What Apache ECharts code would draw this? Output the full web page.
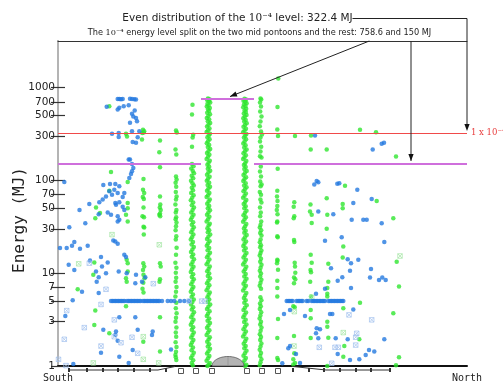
<!DOCTYPE html>
<html>
<head>
<meta charset="utf-8">
<script src="https://cdn.jsdelivr.net/npm/echarts@6/dist/echarts.min.js"></script>
<style>
  html, body { margin: 0; padding: 0; background: #fff; }
  #chart { width: 503px; height: 383px; }
</style>
</head>
<body>
<div id="chart"></div>
<script>
// Impact energy of single events along the floating bridge.
// x: position along the bridge in metres from the south end, y: energy in MJ (log scale).

const yTicks = [1, 3, 5, 7, 10, 30, 50, 70, 100, 300, 500, 700, 1000];
const energyRange = [1, 3162.3];
const bridgeEnds = [0, 4090];
const endNames = ['South', 'North'];

const uniformLevel = 322.4;   // 10^-4 level spread evenly
const midLevel = 758.6;       // share on the two mid pontoons
const restLevel = 150;        // share on the remaining pontoons
const midSpan = [1430, 1960];

const pontoonTicks = [110, 290, 450, 600, 760, 920, 1080, 2350, 2510, 2660, 2820, 2980, 3130, 3320];
const pontoonBoxes = [1230, 1380, 1540, 1890, 2040, 2200];
const domeSpan = [1540, 1860];

// Blue events (scattered along the span)
const blueDots = [
  [597,750],[613,752],[630,748],[647,752],[720,755],[740,750],[763,748],[780,740],
  [487,619],[597,578],[613,603],[657,628],[707,644],[767,564],[740,520],[753,486],[780,470],[790,433],[720,417],
  [540,317],[607,324],[607,293],[740,337],[813,337],[797,290],[747,259],[780,253],
  [707,167],[720,167],[740,150],[753,136],[740,125],[730,117],[713,106],
  [63,96],[453,89],[520,91],[573,91],[613,86],[513,76],[563,79],[597,73],[663,73],[480,67],[540,70],[647,66],
  [447,62],[413,58],[573,57],[613,58],[580,54.5],[313,55.5],[647,52],[663,48],[215,48],[407,43],[497,45],
  [530,42.5],[597,41],[613,37.5],[597,36],[273,34.5],
  [113,31.3],[20,18.6],[87,18.6],[140,19.7],[163,21.6],[220,18.3],[297,19.7],[553,22.4],[573,21.9],[597,20.7],
  [663,15.8],[680,14.9],[320,13.7],[430,14.9],[107,12.3],[163,10.8],[497,13],[440,11.8],[480,10],[380,10.4],
  [407,9.05],[387,8.1],[607,10.4],[687,10],[780,9.6],[773,7.8],[840,8.1],[873,9.05],[240,6.3],[407,6.1],
  [147,5.1],[73,3.46],[613,3.35],[773,3.35],[453,2.45],[580,2.35],[573,2.16],[797,2.45],[947,2.35],[940,2.16],
  [597,1.87],[747,1.49],[430,1.39],[1130,1.51],[613,1.26],[707,1.08],[153,1.05],
  [2570,303],[3147,214],[3237,248],[3260,253],[2587,98],[2603,95],[2563,90],[2793,92],[2813,93],[2993,79],
  [2953,57],[3137,63],[2603,46],[2753,43],[2937,37.5],[3053,37.5],[3087,37.5],[3237,34.5],[2837,24.4],
  [3263,21.6],[2670,22.3],[2897,14.1],[3003,13.9],[2930,12.8],[2730,11.3],[3130,11.1],[2920,10.6],[3120,8.95],
  [3243,9.0],[3277,8.45],[3210,8.45],[2843,9.05],[2797,8.3],[2930,6.9],[2670,6.8],[2580,6.0],[2953,4.07],
  [2743,3.64],[2720,3.64],[2260,3.64],[2320,4.0],[2470,3.46],[2587,2.55],[2620,2.48],[2580,2.25],[2603,1.99],
  [2777,1.99],[2897,1.94],[3263,1.94],[2320,1.64],[2303,1.55],[3110,1.49],[3163,1.43],[2797,1.35],[3077,1.31],
  [2380,1.35],[2920,1.16],[3013,1.18],[2420,1.08],[2243,1.07]
];

// Blue events sitting on the 5 MJ band
const blueFive = [
  [530,5],[545,5],[560,5],[575,5],[590,5],[605,5],[620,5],[635,5],[650,5],[665,5],[690,5],[705,5],[720,5],
  [735,5],[750,5],[765,5],[780,5],[795,5],[810,5],[825,5],[850,5],[865,5],[880,5],[895,5],[910,5],[925,5],
  [940,5],[955,5],[970,5],[985,5],[1000,5],[1013,5],
  [1040,5],[1097,5],[1130,5],[1163,5],[1220,5],[1263,5],[1307,5],
  [2287,5],[2302,5],[2317,5],[2332,5],[2347,5],[2387,5],[2402,5],[2417,5],[2432,5],[2447,5],[2487,5],[2502,5],
  [2537,5],[2552,5],[2567,5],[2582,5],[2597,5],[2612,5],[2627,5],[2642,5],[2657,5],[2670,5],
  [2705,5],[2720,5],[2735,5],[2750,5],[2765,5],[2780,5],[2795,5],[2810,5],[2825,5],[2840,5],[2853,5]
];

const blueCrosses = [
  [480,6.7],[430,4.6],[87,3.95],[563,3.14],[263,2.59],[563,2.07],[740,2.04],[63,1.94],[630,1.78],[430,1.64],
  [797,1.37],[5,1.18],[80,1.01],[953,7.7],[313,12.8],[1313,5],[1437,5],[1470,5],
  [2910,3.55],[3137,3.14],[2987,2.25],[2977,2.04],[2770,1.59],[2803,1.59],[2977,1.68],[2613,1.59],[2737,1.07]
];

// Green events away from the pontoon columns
const greenLoose = [
  [513,627],[680,317],[690,297],[530,123],[697,96],[513,77],[697,57],[697,50],[380,51],[420,44.5],[373,39],
  [680,42.5],[697,36],[687,13.9],[697,12.8],[363,13],[353,9.6],[697,10.4],[680,8.8],[687,8.1],[197,6.7],
  [373,3.95],[363,2.77],[513,2.25],[680,4.4],
  [3020,350],[3180,330],[3380,180],[2870,87.5],[3187,60],[2847,55.5],[2847,50],[3353,39],[2853,19.4],
  [2847,14.7],[3387,13.3],[3410,7.2],[3020,4.8],[2853,4.2],[3353,3.7],[3013,1.94],[2863,1.64],[2853,1.26],
  [3410,1.24],[3380,1.02]
];

const greenCrosses = [
  [540,26],[207,12.6],[1013,20.2],[853,2.07],[853,1.18],[353,1.08],[1007,1.08],
  [3420,15.3],[2853,2.29],[2360,1.64],[2537,5.5],[2363,3.85]
];

// Green events on the individual pontoons
const pontoon5 = [
  [850,350],[862,337],[843,324],[857,328],[840,275],[855,103],[850,79],[862,73],[848,66],[858,63],[855,51],
  [845,41],[860,40],[855,31.6],[862,31],[858,26],[853,12.8],[862,11.8],[850,10.8],[855,9.6],[865,8.8],
  [853,7.9],[845,6.8],[855,6.2],[853,1.83]
];
const pontoon6 = [
  [1020,268],[1013,200],[1020,138],[1020,67],[1023,55],[1018,51],[1027,48],[1020,44],[1013,42.5],[1022,41],
  [1020,12.8],[1027,11.8],[1020,8.6],[1015,8.1],[1020,3.35],[1020,1.43]
];
const pontoon7 = [
  [1180,343],[1188,327],[1175,214],[1183,189],[1180,110],[1186,102],[1176,94],[1182,85],[1178,75],[1186,67],
  [1180,62],[1174,55],[1184,48],[1178,45],[1182,40],[1176,38],[1185,35],[1180,32],[1176,29],[1183,25],
  [1178,23],[1186,18.8],[1180,15.8],[1174,12.9],[1184,11.4],[1178,10.1],[1182,8.9],[1176,8.1],[1185,7.1],
  [1180,6.3],[1174,5.6],[1183,4.8],[1178,4.2],[1186,3.7],[1180,3.3],[1175,3.0],[1184,2.6],[1178,2.3],
  [1182,2.06],[1176,1.8],[1185,1.6],[1180,1.42],[1174,1.31],[1183,1.16],[1178,1.24]
];
const pontoon8 = [
  [1345,650],[1340,510],[1352,310],[1346,289],[1340,230],
  [1340,150],[1355,142],[1332,134],[1348,126],[1360,119],[1337,112],[1352,105],[1330,99],[1345,93],[1358,88],
  [1338,83],[1350,78],[1332,73],[1356,69],[1342,65],[1328,61],[1352,57.5],[1338,54],[1360,51],[1346,48],
  [1332,45],[1355,42.5],[1340,40],[1328,37.5],[1352,35.3],[1338,33.2],[1358,31.2],[1345,29.3],[1332,27.6],
  [1354,26],[1340,24.4],[1328,23],[1350,21.6],[1336,20.3],[1358,19.1],[1344,18],[1330,16.9],[1352,15.9],
  [1338,15],[1360,14.1],[1346,13.2],[1332,12.4],[1355,11.7],[1340,11],[1328,10.3],[1352,9.7],[1338,9.1],
  [1358,8.6],[1345,8.1],[1332,7.6],[1354,7.1],[1340,6.7],[1328,6.3],[1350,5.9],[1336,5.55],[1358,5.2],
  [1344,4.9],[1330,4.6],[1352,4.3],[1338,4.05],[1360,3.8],[1346,3.57],[1332,3.35],[1355,3.15],[1340,2.96],
  [1328,2.78],[1352,2.61],[1338,2.45],[1358,2.3],[1345,2.16],[1332,2.03],[1354,1.9],[1340,1.79],[1328,1.68],
  [1350,1.58],[1336,1.48],[1358,1.39],[1344,1.3],[1330,1.22],[1352,1.15],[1338,1.08],[1348,1.02]
];
const pontoon9 = [
  [1500,758],[1515,748],[1490,735],[1508,712],[1522,690],[1495,668],[1505,640],[1488,622],[1518,600],[1500,578],
  [1510,556],[1492,533],[1520,515],[1503,492],[1488,470],[1512,452],[1498,433],[1522,414],[1505,396],[1490,380],
  [1515,362],[1500,346],[1486,331],[1520,318],[1508,303],[1494,290],[1516,277],[1500,263],[1488,250],[1512,240],
  [1498,228],[1522,217],[1505,207],[1490,197],[1514,188],[1500,179],[1486,170],[1518,162],[1506,154],[1494,147],
  [1512,140],[1498,133],[1522,127],[1504,121],[1490,115],[1516,109],[1500,104],[1488,99],[1512,94],[1496,89],
  [1520,85],[1504,81],[1490,77],[1514,73],[1500,69],[1486,66],[1518,62],[1506,59],[1492,56],[1512,53],
  [1498,50],[1520,47.5],[1504,45],[1490,42.5],[1514,40.5],[1500,38],[1486,36],[1518,34],[1506,32.5],[1494,30.5],
  [1512,29],[1498,27.5],[1522,26],[1504,24.6],[1490,23.3],[1516,22],[1500,20.8],[1488,19.7],[1512,18.6],[1496,17.6],
  [1520,16.6],[1504,15.7],[1490,14.8],[1514,14],[1500,13.2],[1486,12.5],[1518,11.8],[1506,11.1],[1492,10.5],
  [1512,9.9],[1498,9.3],[1520,8.8],[1504,8.3],[1490,7.8],[1514,7.4],[1500,6.95],[1486,6.55],[1518,6.2],
  [1506,5.85],[1494,5.5],[1512,5.2],[1498,4.9],[1522,4.6],[1504,4.35],[1490,4.1],[1516,3.88],[1500,3.65],
  [1488,3.45],[1512,3.25],[1496,3.07],[1520,2.9],[1504,2.73],[1490,2.58],[1514,2.43],[1500,2.29],[1486,2.16],
  [1518,2.04],[1506,1.93],[1492,1.82],[1512,1.72],[1498,1.62],[1520,1.53],[1504,1.44],[1490,1.36],[1514,1.28],
  [1500,1.21],[1486,1.14],[1518,1.08],[1506,1.03],[1494,1.0]
];
const pontoon10 = [
  [1865,755],[1880,742],[1855,720],[1872,700],[1886,676],[1860,655],[1875,630],[1852,612],[1882,590],[1866,566],
  [1878,545],[1858,524],[1885,505],[1868,485],[1853,466],[1877,447],[1862,430],[1887,412],[1870,394],[1855,377],
  [1880,360],[1865,344],[1851,330],[1884,316],[1872,302],[1859,289],[1881,276],[1866,262],[1853,249],[1876,238],
  [1862,226],[1886,215],[1869,205],[1855,196],[1879,186],[1864,177],[1851,169],[1883,161],[1871,153],[1859,146],
  [1877,139],[1863,132],[1887,126],[1869,120],[1855,114],[1881,108],[1865,103],[1853,98],[1877,93],[1861,88],
  [1885,84],[1869,80],[1855,76],[1879,72],[1865,68],[1851,65],[1883,61.5],[1871,58.5],[1857,55.5],[1877,52.5],
  [1863,50],[1885,47],[1869,44.5],[1855,42],[1879,40],[1865,37.8],[1851,35.8],[1883,33.8],[1871,32],[1859,30.3],
  [1877,28.7],[1863,27.2],[1887,25.8],[1869,24.4],[1855,23.1],[1881,21.9],[1865,20.7],[1853,19.6],[1877,18.5],
  [1861,17.5],[1885,16.5],[1869,15.6],[1855,14.7],[1879,13.9],[1865,13.1],[1851,12.4],[1883,11.7],[1871,11],
  [1857,10.4],[1877,9.8],[1863,9.2],[1885,8.7],[1869,8.2],[1855,7.7],[1879,7.3],[1865,6.9],[1851,6.5],
  [1883,6.1],[1871,5.75],[1859,5.4],[1877,5.1],[1863,4.8],[1887,4.5],[1869,4.25],[1855,4],[1881,3.77],
  [1865,3.55],[1853,3.35],[1877,3.15],[1861,2.97],[1885,2.8],[1869,2.64],[1855,2.49],[1879,2.35],[1865,2.21],
  [1851,2.08],[1883,1.96],[1871,1.85],[1857,1.74],[1877,1.64],[1863,1.55],[1885,1.46],[1869,1.37],[1855,1.29],
  [1879,1.22],[1865,1.15],[1851,1.08],[1883,1.03],[1871,1.0]
];
const pontoon11 = [
  [2025,762],[2032,742],[2020,690],[2030,625],[2022,551],[2035,487],[2025,430],[2018,382],[2030,335],[2040,311],
  [2025,289],[2020,261],[2032,230],[2025,204],[2020,181],[2035,176],[2028,141],[2020,124],[2030,110],[2022,97],
  [2036,90],[2026,86],[2018,75],[2030,70],[2024,62],[2034,57.5],[2020,51],[2028,45],[2022,41],[2032,36],
  [2025,33],[2018,31],[2032,29],[2022,27],[2035,25.5],[2026,23],[2018,21.5],[2030,20],[2022,19],[2034,17.5],
  [2025,16.5],[2017,15.5],[2030,14.3],[2022,13.3],[2035,12.3],[2026,11.4],[2018,10.6],[2030,9.9],[2022,9.2],
  [2034,8.5],[2025,7.9],[2017,7.3],[2030,6.8],[2024,5.5],[2034,5.1],[2020,4.7],[2028,4.4],[2018,4.1],[2032,3.8],
  [2024,3.5],[2016,3.25],[2030,3.0],[2022,2.8],[2035,2.6],[2026,2.4],[2018,2.2],[2030,2.05],[2022,1.9],
  [2034,1.75],[2025,1.62],[2017,1.5],[2030,1.38],[2022,1.28],[2034,1.18],[2025,1.1],[2018,1.02]
];
const pontoon12 = [
  [2203,1250],[2195,615],[2193,352],[2200,300],[2197,133],[2193,77],[2190,67],[2195,60],[2193,53],[2188,48],
  [2195,43],[2193,36],[2190,35],[2193,25],[2197,24.4],[2193,13.9],[2195,13.6],[2190,12.8],[2200,10.9],
  [2193,8.3],[2193,6.9],[2193,5.6],[2200,3.2],[2193,2.0],[2193,1.22],[2200,1.16]
];
const pontoon13 = [
  [2370,300],[2363,58],[2357,52],[2363,41],[2357,39],[2360,22.7],[2363,21.6],[2367,12.9],[2370,11.8],
  [2373,10.1],[2360,9.0],[2373,8.6],[2360,7.8],[2367,4.3],[2353,4.4],[2360,2.11],[2363,1.37],[2353,1.18],
  [2370,1.08],[2353,1.04]
];
const pontoon14 = [
  [2530,303],[2527,214],[2525,55],[2520,46],[2537,42.5],[2537,34.7],[2527,15.8],[2537,12.9],[2525,10.8],
  [2530,10.2],[2522,8.1],[2530,5.6],[2527,4.0],[2527,3.27],[2527,2.0]
];
const pontoon15 = [
  [2687,214],[2687,64],[2693,42.5],[2687,30],[2703,12.6],[2703,8.1],[2693,6.9],[2693,6.0],[2693,5.6],
  [2693,3.0],[2693,2.65],[2703,2.02],[2693,1.0]
];

const greenAll = [].concat(greenLoose, pontoon5, pontoon6, pontoon7, pontoon8, pontoon9,
  pontoon10, pontoon11, pontoon12, pontoon13, pontoon14, pontoon15);
const blueAll = blueDots.concat(blueFive);

const boxCross = 'path://M0,0L10,0L10,10L0,10ZM0,0L10,10M10,0L0,10';
const tickLabel = v => String(Math.round(v));

const chart = echarts.init(document.getElementById('chart'), null, { renderer: 'canvas' });

const option = {
  animation: false,
  grid: { left: 58, right: 36, top: 41, bottom: 17, containLabel: false },
  xAxis: [
    {
      type: 'value', position: 'bottom', min: bridgeEnds[0], max: bridgeEnds[1],
      axisLine: { show: true, onZero: false, lineStyle: { color: '#111', width: 2 } },
      axisTick: { show: false }, axisLabel: { show: false }, splitLine: { show: false }
    },
    {
      type: 'value', position: 'top', min: bridgeEnds[0], max: bridgeEnds[1],
      axisLine: { show: true, onZero: false, lineStyle: { color: '#333', width: 1 } },
      axisTick: { show: false }, axisLabel: { show: false }, splitLine: { show: false }
    }
  ],
  yAxis: [
    {
      type: 'log', logBase: 10, position: 'left', min: energyRange[0], max: energyRange[1],
      axisLine: { show: true, lineStyle: { color: '#444', width: 1.5 } },
      axisTick: { show: true, inside: true, length: 7, customValues: yTicks, lineStyle: { color: '#333', width: 1.2 } },
      axisLabel: { customValues: yTicks, formatter: tickLabel, margin: 3, fontFamily: 'DejaVu Sans', fontSize: 10.5, color: '#222' },
      splitLine: { show: false }, minorTick: { show: false }
    },
    {
      type: 'log', logBase: 10, position: 'right', min: energyRange[0], max: energyRange[1],
      axisLine: { show: true, lineStyle: { color: '#b4b4b4', width: 2 } },
      axisTick: { show: true, inside: true, length: 7, customValues: yTicks, lineStyle: { color: '#333', width: 1.2 } },
      axisLabel: { show: false }, splitLine: { show: false }
    }
  ],
  series: [
    {
      type: 'scatter', data: greenAll, symbolSize: 4.5, xAxisIndex: 0, yAxisIndex: 0,
      itemStyle: { color: '#2fe62f' }, z: 2,
      markLine: {
        silent: true, symbol: ['none', 'none'], label: { show: false }, animation: false,
        data: [
          { yAxis: uniformLevel, lineStyle: { color: '#f04a4a', width: 1, type: 'solid' } },
          [{ coord: [bridgeEnds[0], restLevel], lineStyle: { color: '#cf6fdc', width: 1.8, type: 'solid' } }, { coord: [midSpan[0], restLevel] }],
          [{ coord: [midSpan[1], restLevel], lineStyle: { color: '#cf6fdc', width: 1.8, type: 'solid' } }, { coord: [bridgeEnds[1], restLevel] }],
          [{ coord: [midSpan[0], midLevel], lineStyle: { color: '#cf6fdc', width: 1.8, type: 'solid' } }, { coord: [midSpan[1], midLevel] }]
        ]
      }
    },
    {
      type: 'scatter', data: greenCrosses, symbol: boxCross, symbolSize: 4.5,
      itemStyle: { color: 'rgba(0,0,0,0)', borderColor: '#a6e6a6', borderWidth: 0.9 }, z: 3
    },
    {
      type: 'scatter', data: blueAll, symbolSize: 4.5,
      itemStyle: { color: '#2479e0' }, z: 4
    },
    {
      type: 'scatter', data: blueCrosses, symbol: boxCross, symbolSize: 4.5,
      itemStyle: { color: 'rgba(0,0,0,0)', borderColor: '#a3c2ee', borderWidth: 0.9 }, z: 4
    }
  ]
};

chart.setOption(option);

// Annotations, axis captions and the bridge sketch under the axis
const px = v => chart.convertToPixel({ xAxisIndex: 0 }, v);
const py = v => chart.convertToPixel({ yAxisIndex: 0 }, v);
const xL = px(bridgeEnds[0]), xR = px(bridgeEnds[1]);
const yTop = py(energyRange[1]), yBase = py(energyRange[0]);

function arrowHead(x0, y0, x1, y1) {
  const dx = x1 - x0, dy = y1 - y0, L = Math.hypot(dx, dy);
  const ux = dx / L, uy = dy / L, l = 7, w = 2.6;
  return {
    type: 'polygon', z: 120, silent: true,
    shape: { points: [[x1, y1], [x1 - ux * l - uy * w, y1 - uy * l + ux * w], [x1 - ux * l + uy * w, y1 - uy * l - ux * w]] },
    style: { fill: '#111' }
  };
}

const graphics = [];
const sans = 'DejaVu Sans', serif = 'DejaVu Serif', mono = 'DejaVu Sans Mono';

// Headline annotation and its leader to the uniform level
graphics.push({
  type: 'text', x: 237.5, y: 18.5, z: 120, silent: true,
  style: {
    text: '{a|Even distribution of the }{m|10⁻⁴}{a| level: 322.4 MJ}',
    align: 'center', verticalAlign: 'middle', textAlign: 'center', textVerticalAlign: 'middle',
    rich: {
      a: { fontFamily: sans, fontSize: 10.5, fill: '#222', color: '#222' },
      m: { fontFamily: serif, fontSize: 10.5, fill: '#222', color: '#222' }
    }
  }
});
const yUni = py(uniformLevel);
graphics.push({
  type: 'polyline', z: 110, silent: true,
  shape: { points: [[352.5, 18.5], [xR, 18.5], [xR, yUni - 7]] },
  style: { stroke: '#222', lineWidth: 1, fill: null }
});
graphics.push(arrowHead(xR, 18.5, xR, yUni - 2));

// Second annotation with arrows to the split levels
graphics.push({
  type: 'text', x: 259.5, y: 33.3, z: 120, silent: true,
  style: {
    text: '{a|The }{m|10⁻⁴}{a| energy level split on the two mid pontoons and the rest: 758.6 and 150 MJ}',
    align: 'center', verticalAlign: 'middle', textAlign: 'center', textVerticalAlign: 'middle',
    rich: {
      a: { fontFamily: sans, fontSize: 8.2, fill: '#222', color: '#222' },
      m: { fontFamily: serif, fontSize: 8.2, fill: '#222', color: '#222' }
    }
  }
});
const a2x0 = px(3113), a2x1 = px(1720), a2y1 = py(midLevel) - 2;
graphics.push({ type: 'line', z: 110, silent: true, shape: { x1: a2x0, y1: yTop, x2: a2x1, y2: a2y1 }, style: { stroke: '#222', lineWidth: 1 } });
graphics.push(arrowHead(a2x0, yTop, a2x1, a2y1));
const a3x = px(3530), a3y1 = py(restLevel) - 3;
graphics.push({ type: 'line', z: 110, silent: true, shape: { x1: a3x, y1: yTop, x2: a3x, y2: a3y1 }, style: { stroke: '#222', lineWidth: 1 } });
graphics.push(arrowHead(a3x, yTop, a3x, a3y1));

// Level tag at the right edge
graphics.push({
  type: 'text', x: xR + 4, y: yUni, z: 120, silent: true,
  style: {
    text: '{n|1 x 10}{s|−4}',
    align: 'left', verticalAlign: 'middle', textAlign: 'left', textVerticalAlign: 'middle',
    rich: {
      n: { fontFamily: serif, fontSize: 8.5, fill: '#e83c3c', color: '#e83c3c' },
      s: { fontFamily: serif, fontSize: 5.5, fill: '#e83c3c', color: '#e83c3c', verticalAlign: 'top', padding: [0, 0, 5, 0] }
    }
  }
});

// Axis captions
graphics.push({
  type: 'text', x: 20, y: 220, rotation: Math.PI / 2, z: 120, silent: true,
  style: { text: 'Energy (MJ)', fontFamily: mono, fontSize: 16, fill: '#222', align: 'center', verticalAlign: 'middle', textAlign: 'center', textVerticalAlign: 'middle' }
});
bridgeEnds.forEach((b, i) => {
  graphics.push({
    type: 'text', x: px(b), y: yBase + 12.5, z: 120, silent: true,
    style: { text: endNames[i], fontFamily: mono, fontSize: 10, fill: '#222', align: 'center', verticalAlign: 'middle', textAlign: 'center', textVerticalAlign: 'middle' }
  });
});

// Bridge girder profile under the axis
graphics.push({
  type: 'polyline', z: 90, silent: true,
  shape: { points: [[px(110), yBase + 4], [px(1000), yBase + 4], [px(1170), yBase + 0.5]] },
  style: { stroke: '#333', lineWidth: 1, fill: null }
});
graphics.push({
  type: 'polyline', z: 90, silent: true,
  shape: { points: [[px(2350), yBase + 0.5], [px(2680), yBase + 4], [px(3320), yBase + 4]] },
  style: { stroke: '#333', lineWidth: 1, fill: null }
});
pontoonTicks.forEach(p => {
  graphics.push({ type: 'rect', z: 95, silent: true, shape: { x: px(p) - 1, y: yBase + 2, width: 2, height: 4 }, style: { fill: '#333' } });
});
pontoonBoxes.forEach(p => {
  graphics.push({ type: 'rect', z: 95, silent: true, shape: { x: px(p) - 2.5, y: yBase + 2.5, width: 5, height: 5 }, style: { fill: '#fff', stroke: '#555', lineWidth: 1 } });
});

// Dome between the two mid pontoons
const dx0 = px(domeSpan[0]), dx1 = px(domeSpan[1]);
const dcx = (dx0 + dx1) / 2, drx = (dx1 - dx0) / 2, dry = 9.5;
const domePts = [];
for (let i = 0; i <= 32; i++) {
  const t = Math.PI * i / 32;
  domePts.push([dcx - drx * Math.cos(t), yBase - dry * Math.sin(t)]);
}
graphics.push({ type: 'polygon', z: 100, silent: true, shape: { points: domePts }, style: { fill: '#b3b3b3', stroke: '#555', lineWidth: 0.8 } });
graphics.push({ type: 'line', z: 101, silent: true, shape: { x1: dcx, y1: yBase - dry, x2: dcx, y2: yBase }, style: { stroke: '#8a8a8a', lineWidth: 0.6 } });

chart.setOption({ graphic: graphics });
</script>
</body>
</html>
